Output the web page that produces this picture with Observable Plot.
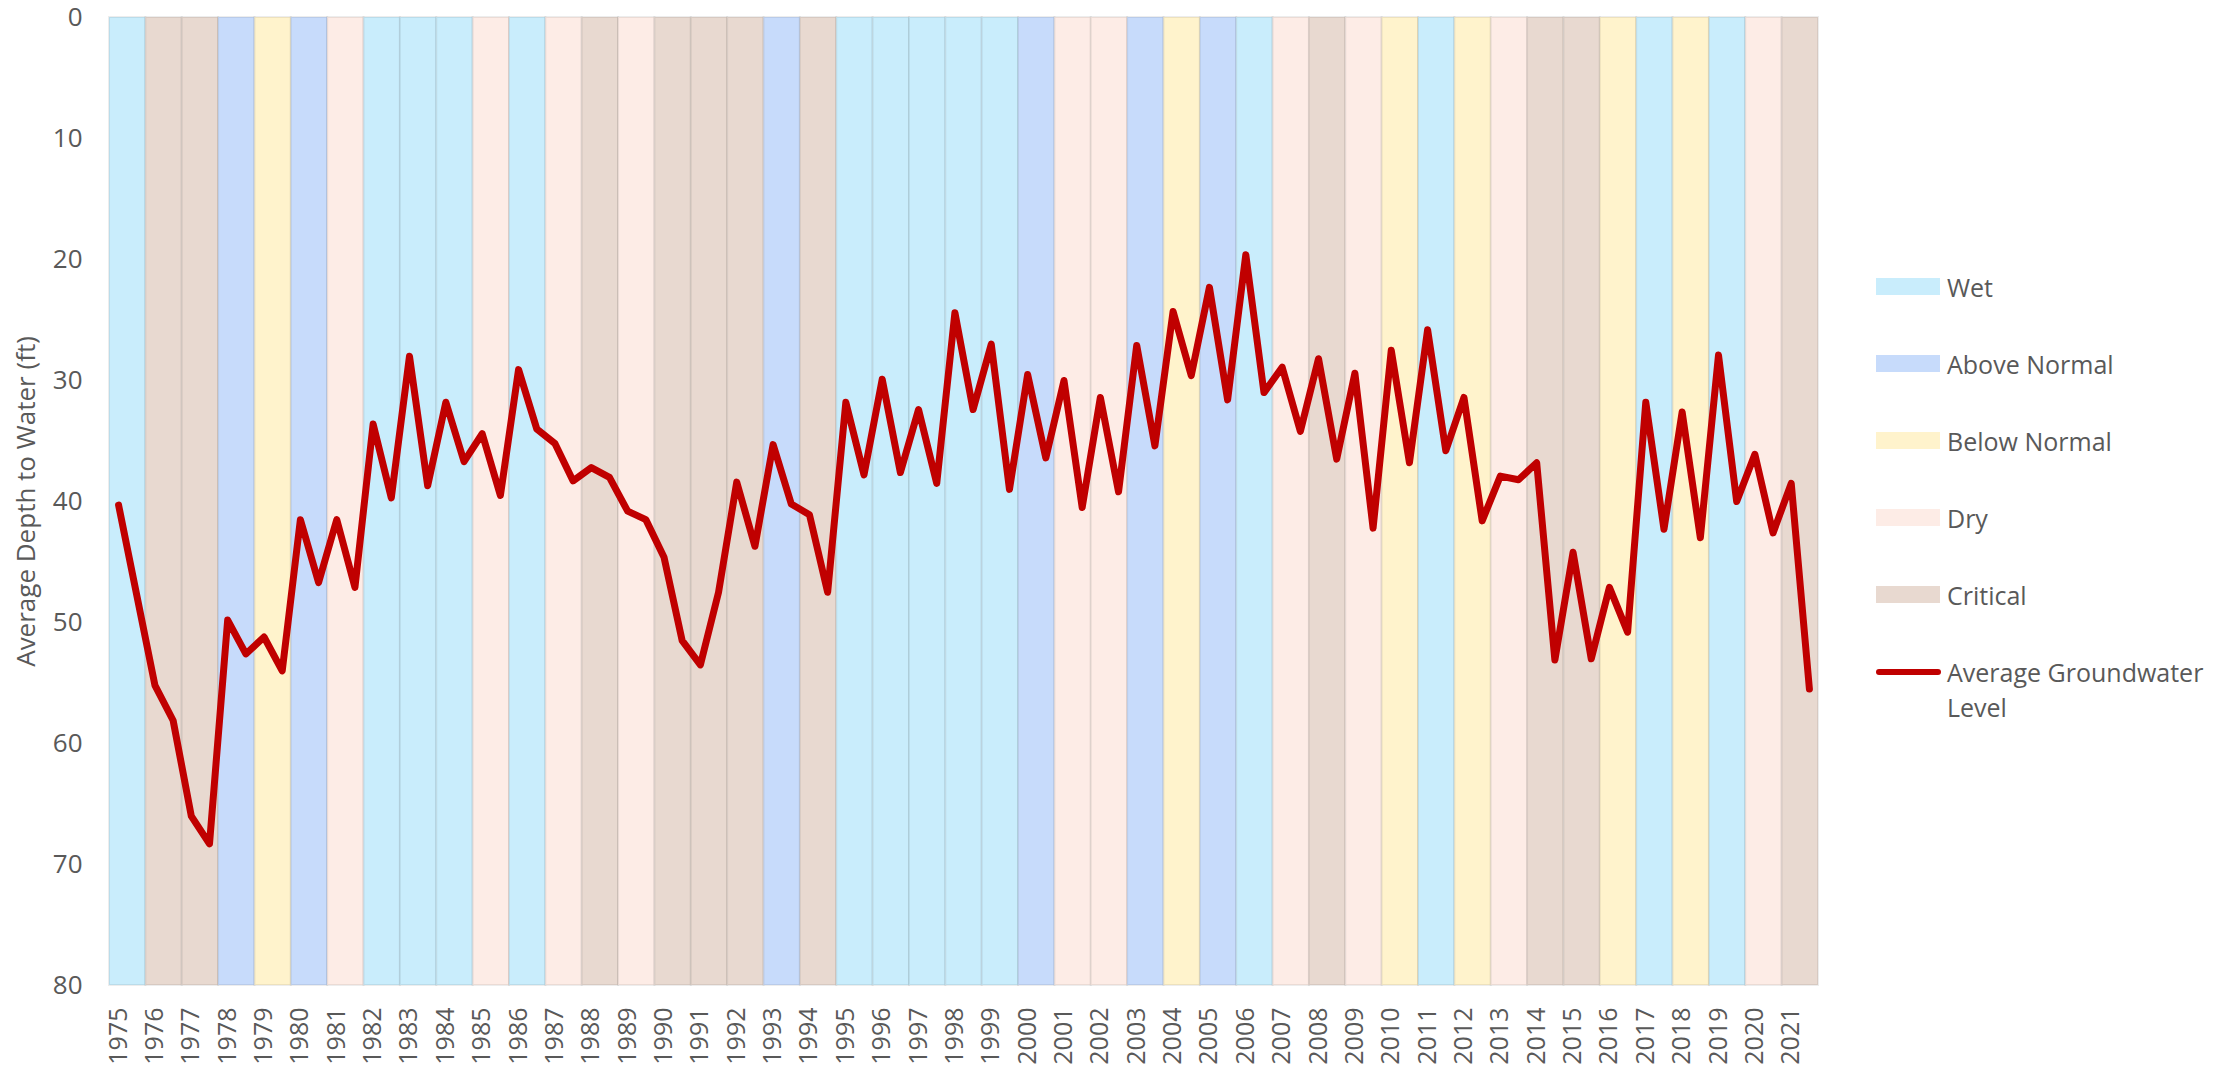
<!DOCTYPE html>
<html><head><meta charset="utf-8">
<script src="https://cdn.jsdelivr.net/npm/d3@7"></script>
<script src="https://cdn.jsdelivr.net/npm/@observablehq/plot@0.6"></script>
<style>
html,body{margin:0;padding:0;background:#fff;overflow:hidden;}
#wrap{position:relative;width:2233px;height:1067px;font-family:"Open Sans",sans-serif;color:#595959;}
#legend{position:absolute;left:1876px;top:0;}
.item{position:absolute;left:0;white-space:nowrap;font-size:25px;line-height:35px;}
.sw{position:absolute;left:0;}
.lbl{position:absolute;left:71px;}
</style></head>
<body><div id="wrap"><div id="chart"></div><div id="legend"></div></div>
<script>
const years = [1975,1976,1977,1978,1979,1980,1981,1982,1983,1984,1985,1986,1987,1988,1989,1990,1991,1992,1993,1994,1995,1996,1997,1998,1999,2000,2001,2002,2003,2004,2005,2006,2007,2008,2009,2010,2011,2012,2013,2014,2015,2016,2017,2018,2019,2020,2021];
const yearTypes = ["Wet","Critical","Critical","Above Normal","Below Normal","Above Normal","Dry","Wet","Wet","Wet","Dry","Wet","Dry","Critical","Dry","Critical","Critical","Critical","Above Normal","Critical","Wet","Wet","Wet","Wet","Wet","Above Normal","Dry","Dry","Above Normal","Below Normal","Above Normal","Wet","Dry","Critical","Dry","Below Normal","Wet","Below Normal","Dry","Critical","Critical","Below Normal","Wet","Below Normal","Wet","Dry","Critical"];
// average depth to water (ft), spring and fall readings of each year
const springDepth = [40.3,55.2,66.0,49.8,51.2,41.5,41.5,33.6,28.0,31.8,34.4,29.1,35.2,37.2,40.8,44.6,53.5,38.4,35.3,41.1,31.8,29.9,32.4,24.4,27.0,29.5,30.0,31.4,27.1,24.3,22.3,19.6,28.9,28.2,29.4,27.5,25.8,31.4,37.9,36.8,44.2,47.1,31.8,32.6,27.9,36.1,38.5];
const fallDepth = [null,58.1,68.3,52.6,54.0,46.7,47.1,39.7,38.7,36.7,39.5,34.0,38.3,38.0,41.5,51.5,47.5,43.7,40.2,47.5,37.8,37.6,38.5,32.4,39.0,36.4,40.5,39.2,35.4,29.6,31.6,31.0,34.2,36.5,42.2,36.8,35.8,41.6,38.2,53.1,53.0,50.8,42.3,43.0,40.0,42.6,55.5];
const typeNames = ["Wet","Above Normal","Below Normal","Dry","Critical"];
const typeColors = ["#C9EDFC","#C7DBFB","#FFF3CC","#FDECE6","#E8D9D0"];
const yTicks = [0,10,20,30,40,50,60,70,80];
const lineName = ["Average Groundwater", "Level"];
const lineColor = "#C00000";
const yLabel = "Average Depth to Water (ft)";

const bands = years.map((y, i) => ({year: y, next: y + 1, type: yearTypes[i]}));
const levels = [];
years.forEach((y, i) => {
  if (springDepth[i] != null) levels.push({t: y + 0.25, depth: springDepth[i]});
  if (fallDepth[i] != null) levels.push({t: y + 0.75, depth: fallDepth[i]});
});

const chart = Plot.plot({
  width: 2233, height: 1067,
  marginLeft: 109, marginRight: 415, marginTop: 17, marginBottom: 82,
  style: {fontFamily: "'Open Sans', sans-serif", color: "#595959", background: "transparent", overflow: "visible"},
  x: {domain: [1975, 2022]},
  y: {domain: [0, 80], reverse: true},
  color: {domain: typeNames, range: typeColors},
  marks: [
    Plot.rect(bands, {x1: "year", x2: "next", y1: 0, y2: 80, fill: "type", stroke: "#000", strokeOpacity: 0.07, strokeWidth: 2}),
    Plot.line(levels, {x: "t", y: "depth", stroke: lineColor, strokeWidth: 7, strokeLinejoin: "round"}),
    Plot.axisY(yTicks, {tickSize: 0, tickPadding: 27, fontSize: 26, label: yLabel, labelAnchor: "center", labelArrow: "none", labelOffset: 93}),
    Plot.axisX(years.map(y => y + 0.25), {tickSize: 0, tickPadding: 22, tickRotate: -90, fontSize: 25, tickFormat: d => String(Math.floor(d)), label: null})
  ]
});
document.getElementById("chart").appendChild(chart);

const legend = document.getElementById("legend");
const rowY = [287, 364, 441, 518, 595];
typeNames.forEach((name, i) => {
  const it = document.createElement("div");
  it.className = "item";
  it.style.top = (rowY[i] - 17) + "px";
  it.innerHTML = `<div class="sw" style="top:8px;width:64px;height:17px;background:${typeColors[i]}"></div><div class="lbl">${name}</div>`;
  legend.appendChild(it);
});
const li = document.createElement("div");
li.className = "item";
li.style.top = (672 - 17) + "px";
li.innerHTML = `<div class="sw" style="top:14px;width:65px;height:6px;border-radius:3px;background:${lineColor}"></div><div class="lbl">${lineName[0]}<br>${lineName[1]}</div>`;
legend.appendChild(li);
</script>
</body></html>
